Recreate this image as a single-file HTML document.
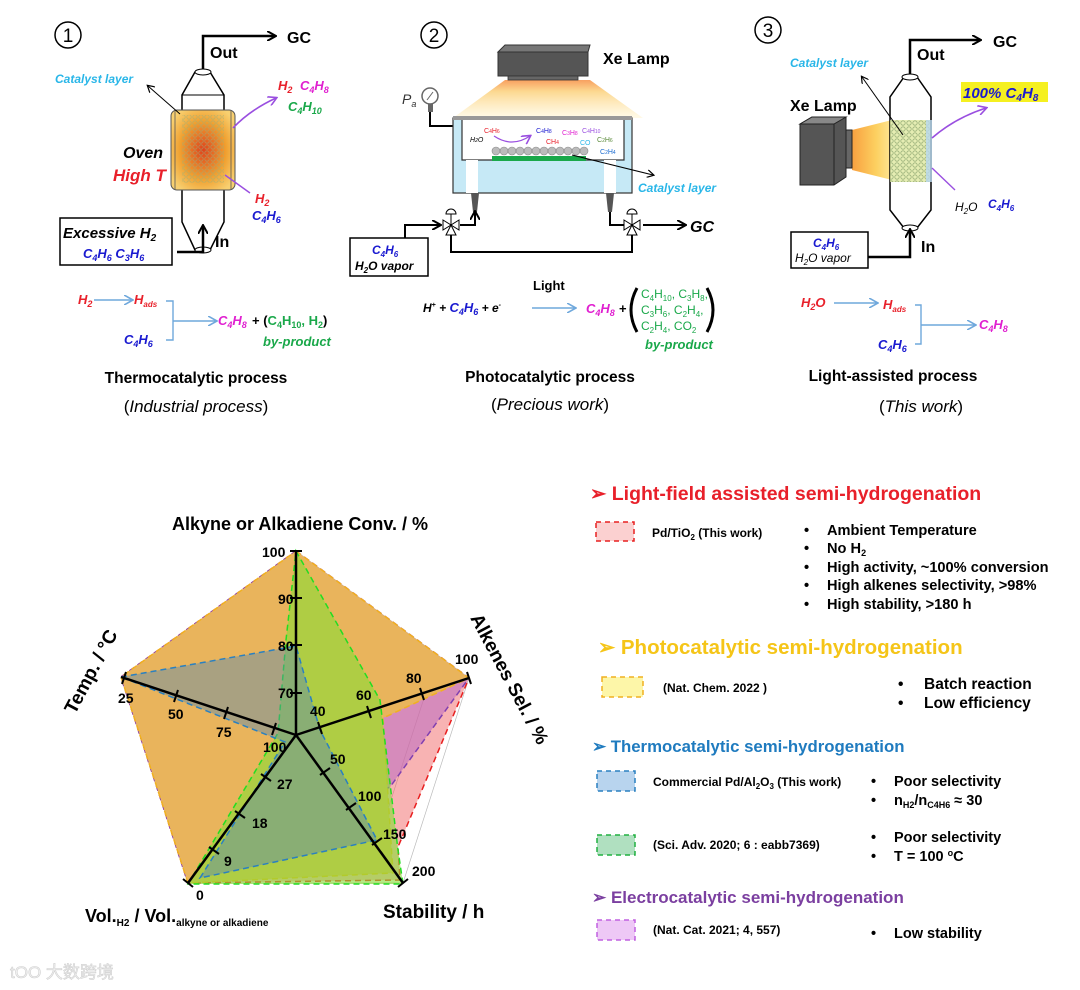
<!DOCTYPE html>
<html><head><meta charset="utf-8"><style>
html,body{margin:0;padding:0;background:#fff}
svg{display:block}
text{font-family:"Liberation Sans",Arial,sans-serif}
.b{font-weight:bold}
.i{font-style:italic}
</style></head><body>
<svg width="1080" height="990" viewBox="0 0 1080 990" xmlns="http://www.w3.org/2000/svg">
<defs>
<marker id="ah" markerWidth="10" markerHeight="10" refX="8" refY="5" orient="auto" markerUnits="userSpaceOnUse"><path d="M0,0 L9,5 L0,10" fill="none" stroke="#000" stroke-width="2"/></marker>
<marker id="ahs" markerWidth="8" markerHeight="8" refX="6" refY="4" orient="auto" markerUnits="userSpaceOnUse"><path d="M0,0 L7,4 L0,8" fill="none" stroke="#000" stroke-width="1.2"/></marker>
<marker id="ahp" markerWidth="10" markerHeight="10" refX="8" refY="5" orient="auto" markerUnits="userSpaceOnUse"><path d="M0,0 L9,5 L0,10" fill="none" stroke="#9a4fe0" stroke-width="1.6"/></marker>
<marker id="ahb" markerWidth="10" markerHeight="10" refX="8" refY="5" orient="auto" markerUnits="userSpaceOnUse"><path d="M0,0 L9,5 L0,10" fill="none" stroke="#6fa8dc" stroke-width="1.6"/></marker>
<radialGradient id="oven" cx="50%" cy="50%" r="60%"><stop offset="0" stop-color="#e0401a"/><stop offset="0.6" stop-color="#f0a030"/><stop offset="1" stop-color="#f8d070"/></radialGradient>
<linearGradient id="beam" x1="0" y1="0" x2="0" y2="1"><stop offset="0" stop-color="#f8a060"/><stop offset="0.3" stop-color="#fcd890"/><stop offset="1" stop-color="#fff6d8" stop-opacity="0.6"/></linearGradient>
<linearGradient id="beam3" x1="0" y1="0" x2="1" y2="0"><stop offset="0" stop-color="#f8a040"/><stop offset="0.5" stop-color="#fcd060"/><stop offset="1" stop-color="#fff0b0"/></linearGradient>
<pattern id="mesh" width="6" height="6" patternUnits="userSpaceOnUse"><circle cx="3" cy="3" r="2.2" fill="none" stroke="#9ab07a" stroke-width="0.8"/></pattern>
</defs>

<!-- ===== Section 1 ===== -->
<circle cx="68" cy="35" r="13" fill="none" stroke="#000" stroke-width="1.5"/>
<text x="68" y="42" font-size="19" text-anchor="middle">1</text>
<polyline points="203,70 203,36 275,36" fill="none" stroke="#000" stroke-width="2.5" marker-end="url(#ah)"/>
<text x="287" y="43" font-size="16" class="b">GC</text>
<text x="210" y="58" font-size="16" class="b">Out</text>
<path d="M195,72 L210,72 L224,95 L224,222 L210,250 L195,250 L182,222 L182,95 Z" fill="#fff" stroke="#000" stroke-width="1.5"/>
<ellipse cx="203" cy="72" rx="8" ry="3" fill="#fff" stroke="#000"/>
<ellipse cx="203" cy="250" rx="8" ry="3" fill="#fff" stroke="#000"/>
<line x1="182" y1="95" x2="224" y2="95" stroke="#000"/>
<rect x="171" y="110" width="64" height="80" rx="6" fill="url(#oven)" stroke="#555"/>
<rect x="182" y="115" width="42" height="68" fill="url(#mesh)" opacity="0.6"/>
<line x1="175" y1="110" x2="175" y2="190" stroke="#555" stroke-width="0.8"/>
<line x1="231" y1="110" x2="231" y2="190" stroke="#555" stroke-width="0.8"/>
<text x="55" y="83" font-size="12" class="b i" fill="#29b6e8">Catalyst layer</text>
<line x1="180" y1="114" x2="148" y2="86" stroke="#000" stroke-width="1" marker-end="url(#ahs)"/>
<path d="M233,128 Q250,110 276,98" fill="none" stroke="#9a4fe0" stroke-width="1.6" marker-end="url(#ahp)"/>
<text x="278" y="90" font-size="13" class="b i" fill="#e8202a">H<tspan font-size="9" dy="3">2</tspan></text>
<text x="300" y="90" font-size="13" class="b i" fill="#e020d0">C<tspan font-size="9" dy="3">4</tspan><tspan dy="-3">H</tspan><tspan font-size="9" dy="3">8</tspan></text>
<text x="288" y="111" font-size="13" class="b i" fill="#1aa84a">C<tspan font-size="9" dy="3">4</tspan><tspan dy="-3">H</tspan><tspan font-size="9" dy="3">10</tspan></text>
<line x1="225" y1="175" x2="250" y2="193" stroke="#9a4fe0" stroke-width="1.4"/>
<text x="255" y="203" font-size="13" class="b i" fill="#e8202a">H<tspan font-size="9" dy="3">2</tspan></text>
<text x="252" y="220" font-size="13" class="b i" fill="#1a1ad0">C<tspan font-size="9" dy="3">4</tspan><tspan dy="-3">H</tspan><tspan font-size="9" dy="3">6</tspan></text>
<text x="123" y="158" font-size="16" class="b i">Oven</text>
<text x="113" y="181" font-size="17" class="b i" fill="#e8202a">High T</text>
<rect x="60" y="218" width="112" height="47" fill="#fff" stroke="#000" stroke-width="1.5"/>
<text x="63" y="238" font-size="15" class="b i">Excessive H<tspan font-size="10" dy="3">2</tspan></text>
<text x="83" y="258" font-size="13" class="b i" fill="#1a1ad0">C<tspan font-size="9" dy="3">4</tspan><tspan dy="-3">H</tspan><tspan font-size="9" dy="3">6</tspan><tspan dy="-3"> C</tspan><tspan font-size="9" dy="3">3</tspan><tspan dy="-3">H</tspan><tspan font-size="9" dy="3">6</tspan></text>
<polyline points="177,252 203,252 203,226" fill="none" stroke="#000" stroke-width="2.5" marker-end="url(#ah)"/>
<text x="215" y="247" font-size="16" class="b">In</text>
<text x="78" y="304" font-size="13" class="b i" fill="#e8202a">H<tspan font-size="9" dy="3">2</tspan></text>
<line x1="94" y1="300" x2="132" y2="300" stroke="#6fa8dc" stroke-width="1.4" marker-end="url(#ahb)"/>
<text x="134" y="304" font-size="13" class="b i" fill="#e8202a">H<tspan font-size="8" dy="3">ads</tspan></text>
<text x="124" y="344" font-size="13" class="b i" fill="#1a1ad0">C<tspan font-size="9" dy="3">4</tspan><tspan dy="-3">H</tspan><tspan font-size="9" dy="3">6</tspan></text>
<polyline points="166,301 173,301 173,340 166,340" fill="none" stroke="#6fa8dc" stroke-width="1.4"/>
<line x1="173" y1="321" x2="216" y2="321" stroke="#6fa8dc" stroke-width="1.4" marker-end="url(#ahb)"/>
<text x="218" y="325" font-size="13" class="b i" fill="#e020d0">C<tspan font-size="9" dy="3">4</tspan><tspan dy="-3">H</tspan><tspan font-size="9" dy="3">8</tspan></text>
<text x="252" y="325" font-size="13" class="b">+ (<tspan fill="#1aa84a">C<tspan font-size="9" dy="3">4</tspan><tspan dy="-3">H</tspan><tspan font-size="9" dy="3">10</tspan><tspan dy="-3">, H</tspan><tspan font-size="9" dy="3">2</tspan></tspan><tspan dy="-3">)</tspan></text>
<text x="263" y="346" font-size="13" class="b i" fill="#1aa84a">by-product</text>
<text x="196" y="383" font-size="15.5" class="b" text-anchor="middle">Thermocatalytic process</text>
<text x="196" y="412" font-size="17" text-anchor="middle">(<tspan class="i">Industrial process</tspan>)</text>

<!-- ===== Section 2 ===== -->
<circle cx="434" cy="35" r="13" fill="none" stroke="#000" stroke-width="1.5"/>
<text x="434" y="42" font-size="19" text-anchor="middle">2</text>
<path d="M505,80 L590,80 L643,118 L453,118 Z" fill="url(#beam)"/>
<path d="M498,52 L505,45 L590,45 L588,52 Z" fill="#777" stroke="#333"/>
<rect x="498" y="52" width="90" height="24" fill="#555" stroke="#333"/>
<rect x="508" y="76" width="70" height="4" fill="#666" stroke="#333" stroke-width="0.8"/>
<text x="603" y="64" font-size="16" class="b">Xe Lamp</text>
<circle cx="430" cy="96" r="8" fill="#fff" stroke="#666" stroke-width="1.5"/>
<line x1="427" y1="100" x2="433" y2="92" stroke="#666"/>
<text x="402" y="104" font-size="14" class="i" fill="#333">P<tspan font-size="9" dy="3">a</tspan></text>
<rect x="428" y="104" width="5" height="8" fill="#666"/>
<polyline points="430,112 430,126 464,126" fill="none" stroke="#000" stroke-width="2"/>
<rect x="453" y="118" width="179" height="75" fill="#c6e9f6" stroke="#333" stroke-width="1.2"/>
<rect x="453" y="116" width="179" height="4" fill="#999"/>
<polyline points="462,120 462,160 624,160 624,120" fill="#fff" stroke="#333" stroke-width="1.2"/>
<rect x="466" y="160" width="12" height="33" fill="#fff"/>
<rect x="604" y="160" width="12" height="33" fill="#fff"/>
<rect x="492" y="156" width="94" height="5" fill="#1aa84a"/>
<g fill="#bbb" stroke="#888" stroke-width="0.6">
<circle cx="496" cy="151" r="4"/><circle cx="504" cy="151" r="4"/><circle cx="512" cy="151" r="4"/><circle cx="520" cy="151" r="4"/><circle cx="528" cy="151" r="4"/><circle cx="536" cy="151" r="4"/><circle cx="544" cy="151" r="4"/><circle cx="552" cy="151" r="4"/><circle cx="560" cy="151" r="4"/><circle cx="568" cy="151" r="4"/><circle cx="576" cy="151" r="4"/><circle cx="584" cy="151" r="4"/></g>
<text x="470" y="142" font-size="7" class="i">H<tspan font-size="5">2</tspan>O</text>
<text x="484" y="133" font-size="7" fill="#e8202a">C<tspan font-size="5">4</tspan>H<tspan font-size="5">6</tspan></text>
<path d="M494,136 Q512,148 530,136" fill="none" stroke="#9a4fe0" stroke-width="1.2" marker-end="url(#ahp)"/>
<text x="536" y="133" font-size="7" fill="#1a1ad0">C<tspan font-size="5">4</tspan>H<tspan font-size="5">8</tspan></text>
<text x="546" y="144" font-size="7" fill="#e8202a">CH<tspan font-size="5">4</tspan></text>
<text x="562" y="135" font-size="7" fill="#e020d0">C<tspan font-size="5">3</tspan>H<tspan font-size="5">8</tspan></text>
<text x="582" y="133" font-size="7" fill="#9a4fe0">C<tspan font-size="5">4</tspan>H<tspan font-size="5">10</tspan></text>
<text x="580" y="145" font-size="7" fill="#29b6e8">CO</text>
<text x="597" y="142" font-size="7" fill="#5a8a3a">C<tspan font-size="5">2</tspan>H<tspan font-size="5">6</tspan></text>
<text x="600" y="154" font-size="7" fill="#1a6ad0">C<tspan font-size="5">2</tspan>H<tspan font-size="5">4</tspan></text>
<line x1="572" y1="155" x2="653" y2="175" stroke="#000" stroke-width="1" marker-end="url(#ahs)"/>
<text x="638" y="192" font-size="12" class="b i" fill="#29b6e8">Catalyst layer</text>
<path d="M471,193 L479,193 L477,212 L473,212 Z" fill="#555"/>
<path d="M606,193 L614,193 L612,212 L608,212 Z" fill="#555"/>
<polyline points="405,238 405,225 440,225" fill="none" stroke="#000" stroke-width="2" marker-end="url(#ah)"/>
<polyline points="460,225 475,225 475,212" fill="none" stroke="#000" stroke-width="2" marker-end="url(#ah)"/>
<polyline points="610,212 610,225 627,225" fill="none" stroke="#000" stroke-width="2"/>
<line x1="643" y1="225" x2="685" y2="225" stroke="#000" stroke-width="2" marker-end="url(#ah)"/>
<polyline points="451,232 451,252 632,252 632,232" fill="none" stroke="#000" stroke-width="2"/>
<g fill="#fff" stroke="#000" stroke-width="1">
<path d="M443,220 L451,225 L443,230 Z"/><path d="M459,220 L451,225 L459,230 Z"/><path d="M446,235 L451,225 L456,235 Z"/>
<path d="M624,220 L632,225 L624,230 Z"/><path d="M640,220 L632,225 L640,230 Z"/><path d="M627,235 L632,225 L637,235 Z"/>
<path d="M446,214 A5,5 0 0 1 456,214 Z"/><path d="M627,214 A5,5 0 0 1 637,214 Z"/></g>
<line x1="451" y1="214" x2="451" y2="225" stroke="#000"/><line x1="632" y1="214" x2="632" y2="225" stroke="#000"/>
<text x="690" y="232" font-size="16" class="b i">GC</text>
<rect x="350" y="238" width="78" height="38" fill="#fff" stroke="#000" stroke-width="1.5"/>
<text x="372" y="254" font-size="12" class="b i" fill="#1a1ad0">C<tspan font-size="8" dy="3">4</tspan><tspan dy="-3">H</tspan><tspan font-size="8" dy="3">6</tspan></text>
<text x="355" y="270" font-size="12" class="b i">H<tspan font-size="8" dy="3">2</tspan><tspan dy="-3">O vapor</tspan></text>
<text x="533" y="290" font-size="13" class="b">Light</text>
<text x="423" y="312" font-size="12" class="b i">H<tspan font-size="7" dy="-5">+</tspan><tspan dy="5"> + </tspan><tspan fill="#1a1ad0" font-size="13">C<tspan font-size="9" dy="3">4</tspan><tspan dy="-3">H</tspan><tspan font-size="9" dy="3">6</tspan></tspan><tspan dy="-3"> + e</tspan><tspan font-size="7" dy="-5">-</tspan></text>
<line x1="532" y1="308" x2="575" y2="308" stroke="#6fa8dc" stroke-width="1.4" marker-end="url(#ahb)"/>
<text x="586" y="313" font-size="13" class="b i" fill="#e020d0">C<tspan font-size="9" dy="3">4</tspan><tspan dy="-3">H</tspan><tspan font-size="9" dy="3">8</tspan></text>
<text x="619" y="313" font-size="13" class="b">+</text>
<path d="M637,288 Q625,310 637,332" fill="none" stroke="#000" stroke-width="3"/>
<path d="M707,288 Q719,310 707,332" fill="none" stroke="#000" stroke-width="3"/>
<g fill="#1aa84a" font-size="12">
<text x="641" y="298">C<tspan font-size="8" dy="3">4</tspan><tspan dy="-3">H</tspan><tspan font-size="8" dy="3">10</tspan><tspan dy="-3">, C</tspan><tspan font-size="8" dy="3">3</tspan><tspan dy="-3">H</tspan><tspan font-size="8" dy="3">8</tspan><tspan dy="-3">,</tspan></text>
<text x="641" y="314">C<tspan font-size="8" dy="3">3</tspan><tspan dy="-3">H</tspan><tspan font-size="8" dy="3">6</tspan><tspan dy="-3">,  C</tspan><tspan font-size="8" dy="3">2</tspan><tspan dy="-3">H</tspan><tspan font-size="8" dy="3">4</tspan><tspan dy="-3">,</tspan></text>
<text x="641" y="330">C<tspan font-size="8" dy="3">2</tspan><tspan dy="-3">H</tspan><tspan font-size="8" dy="3">4</tspan><tspan dy="-3">,  CO</tspan><tspan font-size="8" dy="3">2</tspan></text>
</g>
<text x="645" y="349" font-size="13" class="b i" fill="#1aa84a">by-product</text>
<text x="550" y="382" font-size="15.5" class="b" text-anchor="middle">Photocatalytic process</text>
<text x="550" y="410" font-size="17" text-anchor="middle">(<tspan class="i">Precious work</tspan>)</text>

<!-- ===== Section 3 ===== -->
<circle cx="768" cy="30" r="13" fill="none" stroke="#000" stroke-width="1.5"/>
<text x="768" y="37" font-size="19" text-anchor="middle">3</text>
<polyline points="910,75 910,40 980,40" fill="none" stroke="#000" stroke-width="2.5" marker-end="url(#ah)"/>
<text x="993" y="47" font-size="16" class="b">GC</text>
<text x="917" y="60" font-size="16" class="b">Out</text>
<path d="M852,130 L900,118 L900,182 L852,170 Z" fill="url(#beam3)"/>
<path d="M904,77 L917,77 L931,97 L931,210 L917,228 L904,228 L890,210 L890,97 Z" fill="#fff" stroke="#000" stroke-width="1.5"/>
<ellipse cx="910" cy="77" rx="8" ry="3" fill="#fff" stroke="#000"/>
<ellipse cx="910" cy="228" rx="8" ry="3" fill="#fff" stroke="#000"/>
<rect x="890" y="120" width="40" height="62" fill="#dfe8a0" opacity="0.8"/>
<rect x="890" y="120" width="40" height="62" fill="url(#mesh)"/>
<rect x="926" y="120" width="6" height="62" fill="#b8d8f0" opacity="0.8"/>
<path d="M800,124 L812,117 L846,117 L846,177 L834,185 L800,185 Z" fill="#555" stroke="#222"/>
<path d="M800,124 L812,117 L846,117 L834,124 Z" fill="#888" stroke="#222"/>
<line x1="834" y1="124" x2="834" y2="185" stroke="#222"/>
<rect x="846" y="130" width="6" height="38" fill="#666" stroke="#222"/>
<text x="790" y="111" font-size="16" class="b">Xe Lamp</text>
<text x="790" y="67" font-size="12" class="b i" fill="#29b6e8">Catalyst layer</text>
<line x1="903" y1="135" x2="862" y2="77" stroke="#000" stroke-width="1" marker-end="url(#ahs)"/>
<path d="M932,138 Q955,118 986,108" fill="none" stroke="#9a4fe0" stroke-width="1.6" marker-end="url(#ahp)"/>
<rect x="961" y="82" width="87" height="20" fill="#f5f020"/>
<text x="963" y="98" font-size="15" class="b i" fill="#1a1ad0">100% C<tspan font-size="10" dy="3">4</tspan><tspan dy="-3">H</tspan><tspan font-size="10" dy="3">8</tspan></text>
<line x1="932" y1="168" x2="955" y2="190" stroke="#9a4fe0" stroke-width="1.4"/>
<text x="955" y="211" font-size="12" class="i">H<tspan font-size="8" dy="3">2</tspan><tspan dy="-3">O</tspan></text>
<text x="988" y="208" font-size="12" class="b i" fill="#1a1ad0">C<tspan font-size="8" dy="3">4</tspan><tspan dy="-3">H</tspan><tspan font-size="8" dy="3">6</tspan></text>
<rect x="791" y="232" width="77" height="36" fill="#fff" stroke="#000" stroke-width="1.5"/>
<text x="813" y="247" font-size="12" class="b i" fill="#1a1ad0">C<tspan font-size="8" dy="3">4</tspan><tspan dy="-3">H</tspan><tspan font-size="8" dy="3">6</tspan></text>
<text x="795" y="262" font-size="12" class="i">H<tspan font-size="8" dy="3">2</tspan><tspan dy="-3">O vapor</tspan></text>
<polyline points="868,257 910,257 910,230" fill="none" stroke="#000" stroke-width="2.5" marker-end="url(#ah)"/>
<text x="921" y="252" font-size="16" class="b">In</text>
<text x="801" y="307" font-size="13" class="b i" fill="#e8202a">H<tspan font-size="9" dy="3">2</tspan><tspan dy="-3">O</tspan></text>
<line x1="834" y1="303" x2="877" y2="303" stroke="#6fa8dc" stroke-width="1.4" marker-end="url(#ahb)"/>
<text x="883" y="309" font-size="13" class="b i" fill="#e8202a">H<tspan font-size="8" dy="3">ads</tspan></text>
<text x="878" y="349" font-size="13" class="b i" fill="#1a1ad0">C<tspan font-size="9" dy="3">4</tspan><tspan dy="-3">H</tspan><tspan font-size="9" dy="3">6</tspan></text>
<polyline points="915,305 921,305 921,344 915,344" fill="none" stroke="#6fa8dc" stroke-width="1.4"/>
<line x1="921" y1="325" x2="975" y2="325" stroke="#6fa8dc" stroke-width="1.4" marker-end="url(#ahb)"/>
<text x="979" y="329" font-size="13" class="b i" fill="#e020d0">C<tspan font-size="9" dy="3">4</tspan><tspan dy="-3">H</tspan><tspan font-size="9" dy="3">8</tspan></text>
<text x="893" y="381" font-size="15.5" class="b" text-anchor="middle">Light-assisted process</text>
<text x="921" y="412" font-size="17" text-anchor="middle">(<tspan class="i">This work</tspan>)</text>

<!-- ===== Radar ===== -->
<g fill="none" stroke="#999" stroke-width="0.7">
<polygon points="296,551 469,678 403,883 188,883 121,677" stroke="#bbb"/>
<polygon points="296,597 426,692 376,846 215,846 165,692"/>
<polygon points="296,643 383,707 350,809 242,809 208,707"/>
<polygon points="296,689 340,721 323,772 269,772 252,721"/>
</g>
<polygon points="296,551 469,678 398,847 400,880 188,883 121,677" fill="#f48a8a" fill-opacity="0.65" stroke="#e82020" stroke-width="1.5" stroke-dasharray="6,4"/>
<polygon points="296,551 469,678 390,787 188,883 121,677" fill="#c070c0" fill-opacity="0.6" stroke="#8040b0" stroke-width="1.5" stroke-dasharray="6,4"/>
<polygon points="296,551 469,678 383,718 393,873 188,883 121,677" fill="#e9b45c" stroke="#f0b020" stroke-width="1.5" stroke-dasharray="6,4"/>
<polygon points="296,551 380,700 398,850 403,884 188,884 278,733 286,640" fill="#88dd33" fill-opacity="0.6" stroke="#22dd22" stroke-width="1.5" stroke-dasharray="6,4"/>
<polygon points="121,677 296,646 320,730 377,840 200,878 285,742" fill="#5a8ab0" fill-opacity="0.45" stroke="#2a80c0" stroke-width="1.5" stroke-dasharray="6,4"/>
<g stroke="#000" stroke-width="2.5" fill="none">
<line x1="296" y1="735" x2="296" y2="551"/>
<line x1="296" y1="735" x2="469" y2="678"/>
<line x1="296" y1="735" x2="403" y2="883"/>
<line x1="296" y1="735" x2="188" y2="883"/>
<line x1="296" y1="735" x2="121" y2="677"/>
</g>
<g stroke="#000" stroke-width="2">
<line x1="290" y1="551" x2="302" y2="551"/><line x1="290" y1="598" x2="302" y2="598"/><line x1="290" y1="645" x2="302" y2="645"/><line x1="290" y1="693" x2="302" y2="693"/>
<line x1="467" y1="672" x2="471" y2="684"/><line x1="420" y1="688" x2="424" y2="700"/><line x1="367" y1="706" x2="371" y2="718"/><line x1="318" y1="722" x2="322" y2="734"/>
<line x1="126" y1="672" x2="122" y2="684"/><line x1="178" y1="690" x2="174" y2="702"/><line x1="228" y1="707" x2="224" y2="719"/><line x1="276" y1="723" x2="272" y2="735"/>
<line x1="398" y1="887" x2="408" y2="879"/><line x1="372" y1="845" x2="382" y2="838"/><line x1="346" y1="810" x2="356" y2="803"/><line x1="320" y1="775" x2="330" y2="768"/>
<line x1="183" y1="879" x2="193" y2="887"/><line x1="209" y1="847" x2="219" y2="854"/><line x1="235" y1="811" x2="245" y2="818"/><line x1="261" y1="774" x2="271" y2="781"/>
</g>
<g font-size="14" font-weight="bold">
<text x="262" y="557">100</text><text x="278" y="604">90</text><text x="278" y="651">80</text><text x="278" y="698">70</text>
<text x="118" y="703">25</text><text x="168" y="719">50</text><text x="216" y="737">75</text><text x="263" y="752">100</text>
<text x="310" y="716">40</text><text x="356" y="700">60</text><text x="406" y="683">80</text><text x="455" y="664">100</text>
<text x="330" y="764">50</text><text x="358" y="801">100</text><text x="383" y="839">150</text><text x="412" y="876">200</text>
<text x="277" y="789">27</text><text x="252" y="828">18</text><text x="224" y="866">9</text><text x="196" y="900">0</text>
</g>
<text x="300" y="530" font-size="18" class="b" text-anchor="middle">Alkyne or Alkadiene Conv. / %</text>
<text transform="translate(75,715) rotate(-62)" font-size="19" class="b">Temp. / °C</text>
<text transform="translate(470,618) rotate(62)" font-size="19" class="b">Alkenes Sel. / %</text>
<text x="383" y="918" font-size="19" class="b">Stability / h</text>
<text x="85" y="922" font-size="18" class="b">Vol.<tspan font-size="10" dy="4">H2</tspan><tspan dy="-4">  /  Vol.</tspan><tspan font-size="10" dy="4">alkyne or alkadiene</tspan></text>

<!-- ===== Legend ===== -->
<text x="590" y="500" font-size="19.5" class="b" fill="#e8202a">➢  Light-field assisted semi-hydrogenation</text>
<rect x="596" y="522" width="38" height="19" fill="#fbd0d0" stroke="#e82020" stroke-width="1.5" stroke-dasharray="5,4"/>
<text x="652" y="537" font-size="12" class="b">Pd/TiO<tspan font-size="8" dy="3">2</tspan><tspan dy="-3"> (This work)</tspan></text>
<g font-size="14.6" class="b">
<text x="804" y="535">•</text><text x="827" y="535">Ambient Temperature</text>
<text x="804" y="553">•</text><text x="827" y="553">No H<tspan font-size="9" dy="3">2</tspan></text>
<text x="804" y="572">•</text><text x="827" y="572">High activity, ~100% conversion</text>
<text x="804" y="590">•</text><text x="827" y="590">High alkenes selectivity, &gt;98%</text>
<text x="804" y="609">•</text><text x="827" y="609">High stability, &gt;180 h</text>
</g>
<text x="598" y="654" font-size="20.5" class="b" fill="#f5c518">➢  Photocatalytic semi-hydrogenation</text>
<rect x="602" y="677" width="41" height="20" fill="#fdf6a8" stroke="#f0b020" stroke-width="1.5" stroke-dasharray="5,4"/>
<text x="663" y="692" font-size="12" class="b">(Nat. Chem. 2022 )</text>
<g font-size="15.5" class="b">
<text x="898" y="689">•</text><text x="924" y="689">Batch reaction</text>
<text x="898" y="708">•</text><text x="924" y="708">Low efficiency</text>
</g>
<text x="592" y="752" font-size="16.8" class="b" fill="#1f7bbf">➢  Thermocatalytic semi-hydrogenation</text>
<rect x="597" y="771" width="38" height="20" fill="#b8d4ee" stroke="#2a80c0" stroke-width="1.5" stroke-dasharray="5,4"/>
<text x="653" y="786" font-size="12" class="b">Commercial Pd/Al<tspan font-size="8" dy="3">2</tspan><tspan dy="-3">O</tspan><tspan font-size="8" dy="3">3</tspan><tspan dy="-3"> (This work)</tspan></text>
<g font-size="14.5" class="b">
<text x="871" y="786">•</text><text x="894" y="786">Poor selectivity</text>
<text x="871" y="805">•</text><text x="894" y="805">n<tspan font-size="9" dy="3">H2</tspan><tspan dy="-3">/n</tspan><tspan font-size="9" dy="3">C4H6</tspan><tspan dy="-3"> ≈ 30</tspan></text>
<text x="871" y="842">•</text><text x="894" y="842">Poor selectivity</text>
<text x="871" y="861">•</text><text x="894" y="861">T = 100 <tspan font-size="9" dy="-5">o</tspan><tspan dy="5">C</tspan></text>
<text x="871" y="938">•</text><text x="894" y="938">Low stability</text>
</g>
<rect x="597" y="835" width="38" height="20" fill="#b0e0c0" stroke="#20b040" stroke-width="1.5" stroke-dasharray="5,4"/>
<text x="653" y="849" font-size="12" class="b">(Sci. Adv. 2020; 6 : eabb7369)</text>
<text x="592" y="903" font-size="17" class="b" fill="#7b3fa0">➢  Electrocatalytic semi-hydrogenation</text>
<rect x="597" y="920" width="38" height="20" fill="#eec8f6" stroke="#c060e0" stroke-width="1.5" stroke-dasharray="5,4"/>
<text x="653" y="934" font-size="12" class="b">(Nat. Cat. 2021; 4, 557)</text>

<text x="10" y="978" font-size="17" fill="#f0f0f0" stroke="#d0d0d0" stroke-width="0.6" font-family="'Liberation Sans','Noto Sans CJK SC',sans-serif">tOO 大数跨境</text>
</svg>
</body></html>
